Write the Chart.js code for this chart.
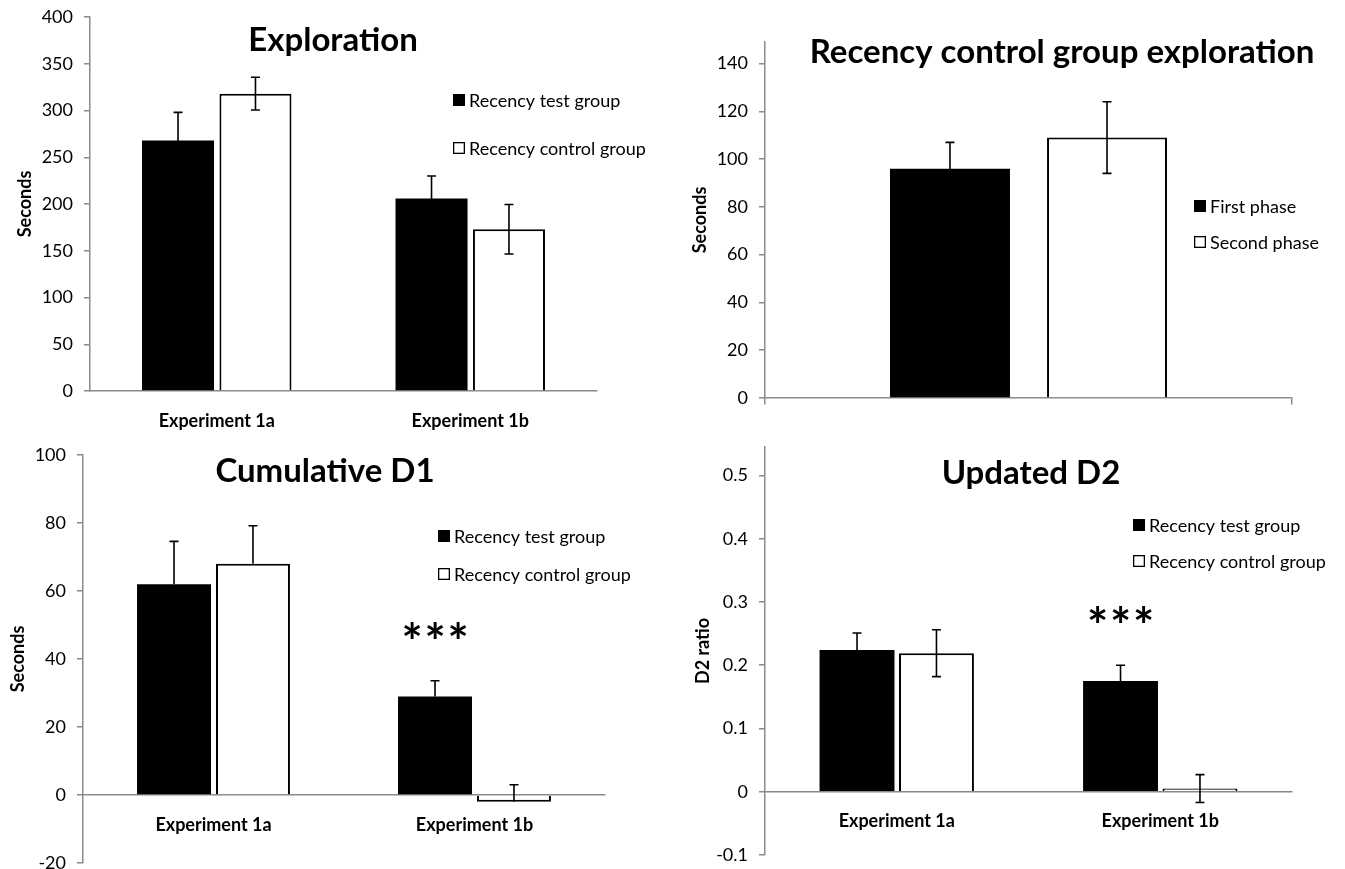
<!DOCTYPE html>
<html>
<head>
<meta charset="utf-8">
<title>Recency exploration</title>
<script src="https://cdn.jsdelivr.net/npm/chart.js@4.4.0/dist/chart.umd.min.js"></script>
<style>
  html, body { margin: 0; padding: 0; background: #fff; overflow: hidden; }
  #wrap { position: relative; width: 1345px; height: 869px; }
  #wrap canvas { position: absolute; }
</style>
</head>
<body>
<div id="wrap">
  <canvas id="chart1" width="672" height="430" style="left:0;top:0"></canvas>
  <canvas id="chart2" width="673" height="430" style="left:672px;top:0"></canvas>
  <canvas id="chart3" width="672" height="439" style="left:0;top:430px"></canvas>
  <canvas id="chart4" width="673" height="439" style="left:672px;top:430px"></canvas>
</div>
<script>
  //=======================================================//
  // data

  const experiments = ['Experiment 1a', 'Experiment 1b'];
  const groupNames = ['Recency test group', 'Recency control group'];

  // Exploration (seconds)
  const explorationTest = [268, 206];
  const explorationTestErr = [30, 24];
  const explorationControl = [318, 173];
  const explorationControlErr = [17.5, 26.5];

  // Recency control group exploration (seconds)
  const phaseNames = ['First phase', 'Second phase'];
  const phaseValues = [96, 109];
  const phaseErr = [11, 15];

  // Cumulative D1 (seconds) - upper error bars only
  const d1Test = [62, 29];
  const d1TestErr = [12.6, 4.6];
  const d1Control = [68, -2];
  const d1ControlErr = [11.2, 5];

  // Updated D2 ratio
  const d2Test = [0.224, 0.175];
  const d2TestErr = [0.027, 0.025];
  const d2Control = [0.219, 0.005];
  const d2ControlErr = [0.037, 0.022];

  //=======================================================//

  const axisGray = '#8a8a8a';
  const fontFamily = 'Lato, "Open Sans", sans-serif';

  // error bars drawn from the y scale of each chart
  const errorBars = {
    id: 'errorBars',
    afterDatasetsDraw(chart) {
      const ctx = chart.ctx;
      const yScale = chart.scales.y;
      ctx.save();
      ctx.strokeStyle = '#000';
      ctx.lineWidth = 1.6;
      chart.data.datasets.forEach((ds, i) => {
        chart.getDatasetMeta(i).data.forEach((bar, j) => {
          const v = ds.data[j];
          const yTop = yScale.getPixelForValue(v + ds.errUp[j]);
          const yBot = yScale.getPixelForValue(v - ds.errDown[j]);
          ctx.beginPath();
          ctx.moveTo(bar.x, yTop);
          ctx.lineTo(bar.x, yBot);
          ctx.moveTo(bar.x - 4.5, yTop);
          ctx.lineTo(bar.x + 4.5, yTop);
          if (ds.errDown[j] > 0) {
            ctx.moveTo(bar.x - 4.5, yBot);
            ctx.lineTo(bar.x + 4.5, yBot);
          }
          ctx.stroke();
        });
      });
      ctx.restore();
    }
  };

  // title, legend and significance stars inside the plot area
  const panelText = {
    id: 'panelText',
    afterDraw(chart, args, o) {
      const ctx = chart.ctx;
      ctx.save();
      ctx.fillStyle = '#000';
      ctx.font = 'bold ' + o.titleSize + 'px ' + fontFamily;
      ctx.textAlign = 'center';
      ctx.textBaseline = 'alphabetic';
      ctx.fillText(o.title, o.titleX, o.titleY);

      ctx.font = o.legendSize + 'px ' + fontFamily;
      ctx.textAlign = 'left';
      ctx.textBaseline = 'middle';
      chart.data.datasets.forEach((ds, i) => {
        const cy = o.legendY[i];
        ctx.fillStyle = ds.backgroundColor;
        ctx.fillRect(o.legendX, cy - 6, 12, 12);
        ctx.strokeStyle = '#000';
        ctx.lineWidth = 1.3;
        ctx.strokeRect(o.legendX + 0.65, cy - 5.35, 10.7, 10.7);
        ctx.fillStyle = '#000';
        ctx.fillText(ds.label, o.legendX + 16, cy + 1);
      });

      if (o.star) {
        const bar = chart.getDatasetMeta(o.star.dataset).data[o.star.index];
        const sy = chart.scales.y.getPixelForValue(o.star.value);
        ctx.font = 'bold 100px ' + fontFamily;
        let m = ctx.measureText('*');
        const size = 100 * 17 / (m.actualBoundingBoxAscent + m.actualBoundingBoxDescent);
        ctx.font = 'bold ' + size + 'px ' + fontFamily;
        m = ctx.measureText('*');
        const base = sy + (m.actualBoundingBoxAscent - m.actualBoundingBoxDescent) / 2;
        ctx.textAlign = 'center';
        ctx.textBaseline = 'alphabetic';
        for (let k = -1; k <= 1; k++) {
          ctx.fillText('*', bar.x + k * 23, base);
        }
      }
      ctx.restore();
    }
  };

  function barSet(label, data, errUp, errDown, fill) {
    return {
      label: label,
      data: data,
      errUp: errUp,
      errDown: errDown,
      backgroundColor: fill,
      borderColor: '#000',
      borderWidth: fill === '#000' ? 0 : 2,
      borderSkipped: 'start'
    };
  }

  function panelOptions(p) {
    return {
      responsive: false,
      animation: false,
      events: [],
      layout: {
        padding: { left: 0, top: p.top, right: p.right, bottom: p.bottom }
      },
      datasets: {
        bar: { categoryPercentage: p.catPct, barPercentage: p.barPct }
      },
      scales: {
        x: {
          position: { y: 0 },
          grid: {
            display: p.xTicks,
            drawOnChartArea: false,
            drawTicks: true,
            tickLength: 6,
            color: axisGray,
            lineWidth: 1.5
          },
          border: { color: axisGray, width: 1.5 },
          ticks: {
            padding: 13,
            color: '#000',
            font: { family: fontFamily, size: 18, weight: 'bold' }
          },
          afterFit(s) { s.height = 0; s.paddingLeft = 0; s.paddingRight = 0; }
        },
        y: {
          min: p.min,
          max: p.max,
          border: { color: axisGray, width: 1.5 },
          grid: {
            drawOnChartArea: false,
            drawTicks: true,
            tickLength: 6,
            color: axisGray,
            lineWidth: 1.5
          },
          ticks: {
            stepSize: p.step,
            includeBounds: false,
            padding: 11,
            color: '#000',
            font: { family: fontFamily, size: 18 },
            callback: v => String(+v.toFixed(1))
          },
          title: {
            display: true,
            text: p.yTitle,
            color: '#000',
            font: { family: fontFamily, size: 18, weight: 'bold' },
            padding: { top: p.yTitlePad, bottom: 0 }
          },
          afterFit(s) { s.width = p.yWidth; s.paddingTop = 0; s.paddingBottom = 0; }
        }
      },
      plugins: {
        legend: { display: false },
        tooltip: { enabled: false },
        panelText: p.text
      }
    };
  }

  //=======================================================//
  // Exploration (chart1)

  new Chart(document.getElementById('chart1'), {
    type: 'bar',
    data: {
      labels: experiments,
      datasets: [
        barSet(groupNames[0], explorationTest, explorationTestErr, explorationTestErr, '#000'),
        barSet(groupNames[1], explorationControl, explorationControlErr, explorationControlErr, '#fff')
      ]
    },
    options: panelOptions({
      top: 17, right: 75, bottom: 39, yWidth: 90,
      min: 0, max: 400, step: 50,
      catPct: 0.611, barPct: 0.93,
      xTicks: false,
      yTitle: 'Seconds', yTitlePad: 14,
      text: {
        title: 'Exploration', titleSize: 33, titleX: 333, titleY: 51,
        legendSize: 18, legendX: 453, legendY: [100, 148]
      }
    }),
    plugins: [errorBars, panelText]
  });

  //=======================================================//
  // Recency control group exploration (chart2)

  new Chart(document.getElementById('chart2'), {
    type: 'bar',
    data: {
      labels: [''],
      datasets: [
        barSet(phaseNames[0], [phaseValues[0]], [phaseErr[0]], [phaseErr[0]], '#000'),
        barSet(phaseNames[1], [phaseValues[1]], [phaseErr[1]], [phaseErr[1]], '#fff')
      ]
    },
    options: panelOptions({
      top: 42, right: 53, bottom: 32, yWidth: 93,
      min: 0, max: 149, step: 20,
      catPct: 0.596, barPct: 0.764,
      xTicks: true,
      yTitle: 'Seconds', yTitlePad: 17,
      text: {
        title: 'Recency control group exploration', titleSize: 33, titleX: 390, titleY: 63,
        legendSize: 18, legendX: 522, legendY: [206, 242]
      }
    }),
    plugins: [errorBars, panelText]
  });

  //=======================================================//
  // Cumulative D1 (chart3)

  new Chart(document.getElementById('chart3'), {
    type: 'bar',
    data: {
      labels: experiments,
      datasets: [
        barSet(groupNames[0], d1Test, d1TestErr, [0, 0], '#000'),
        barSet(groupNames[1], d1Control, d1ControlErr, [0, 0], '#fff')
      ]
    },
    options: panelOptions({
      top: 25, right: 67, bottom: 6, yWidth: 83,
      min: -20, max: 100, step: 20,
      catPct: 0.605, barPct: 0.937,
      xTicks: false,
      yTitle: 'Seconds', yTitlePad: 7,
      text: {
        title: 'Cumulative D1', titleSize: 33, titleX: 325, titleY: 52,
        legendSize: 18, legendX: 438, legendY: [106, 144],
        star: { dataset: 0, index: 1, value: 43.7 }
      }
    }),
    plugins: [errorBars, panelText]
  });

  //=======================================================//
  // Updated D2 (chart4)

  new Chart(document.getElementById('chart4'), {
    type: 'bar',
    data: {
      labels: experiments,
      datasets: [
        barSet(groupNames[0], d2Test, d2TestErr, d2TestErr, '#000'),
        barSet(groupNames[1], d2Control, d2ControlErr, d2ControlErr, '#fff')
      ]
    },
    options: panelOptions({
      top: 17, right: 53, bottom: 14, yWidth: 93,
      min: -0.1, max: 0.545, step: 0.1,
      catPct: 0.603, barPct: 0.943,
      xTicks: false,
      yTitle: 'D2 ratio', yTitlePad: 20,
      text: {
        title: 'Updated D2', titleSize: 33, titleX: 359, titleY: 54,
        legendSize: 18, legendX: 461, legendY: [95, 131],
        star: { dataset: 0, index: 1, value: 0.255 }
      }
    }),
    plugins: [errorBars, panelText]
  });
</script>
</body>
</html>
